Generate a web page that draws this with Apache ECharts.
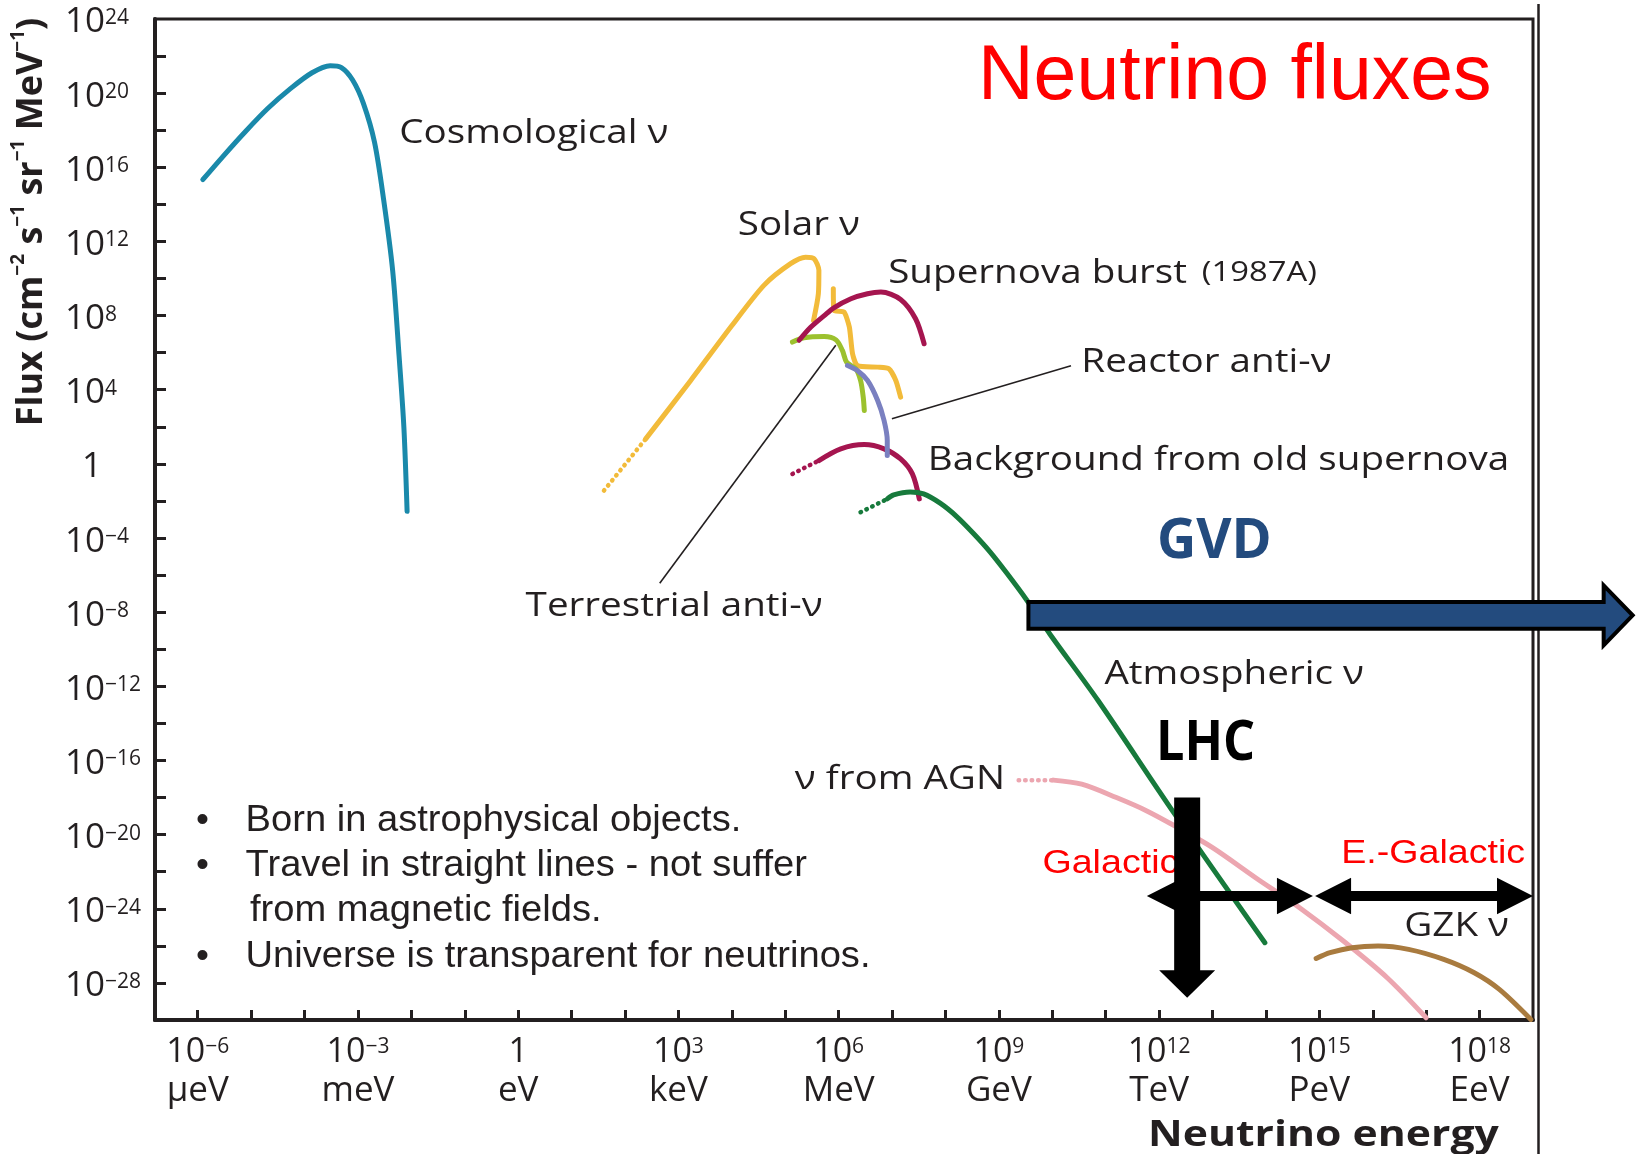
<!DOCTYPE html>
<html>
<head>
<meta charset="utf-8">
<title>Neutrino fluxes</title>
<script src="https://cdn.jsdelivr.net/npm/echarts@6.0.0/dist/echarts.min.js"></script>
<style>
  html, body { margin: 0; padding: 0; background: #ffffff; }
  #chart { width: 1637px; height: 1154px; }
</style>
</head>
<body>
<div id="chart"></div>
<script>
// Axes are in decades: x = log10(E / eV), y = log10(flux / (cm^-2 s^-1 sr^-1 MeV^-1))
const xTickValues = [-6, -5, -4, -3, -2, -1, 0, 1, 2, 3, 4, 5, 6, 7, 8, 9, 10, 11, 12, 13, 14, 15, 16, 17, 18];
const xLabelValues = [-6, -3, 0, 3, 6, 9, 12, 15, 18];
const xLabelUnits = ['µeV', 'meV', 'eV', 'keV', 'MeV', 'GeV', 'TeV', 'PeV', 'EeV'];
const yTickValues = [-28, -26, -24, -22, -20, -18, -16, -14, -12, -10, -8, -6, -4, -2, 0, 2, 4, 6, 8, 10, 12, 14, 16, 18, 20, 22];
const yLabelValues = [-28, -24, -20, -16, -12, -8, -4, 0, 4, 8, 12, 16, 20, 24];

// Flux curves, [log10 E, log10 flux]
const cosmological = [[-5.905, 15.33], [-5.53, 16.58], [-5.11, 17.92], [-4.69, 19.17], [-4.27, 20.23], [-3.86, 21.10], [-3.52, 21.48], [-3.31, 21.38], [-3.10, 20.71], [-2.90, 19.46], [-2.69, 17.35], [-2.52, 14.27], [-2.35, 10.42], [-2.23, 5.81], [-2.14, 1.96], [-2.08, -2.56]];
const solarDotted = [[1.606, -1.44], [2.387, 1.35]];
const solarMain = [[2.387, 1.35], [3.23, 4.50], [3.98, 7.38], [4.60, 9.63], [5.10, 10.80], [5.38, 11.15], [5.54, 11.07], [5.63, 10.44], [5.62, 9.18], [5.53, 7.74]];
const solarHigh = [[5.90, 9.45], [5.91, 8.28], [6.10, 8.19], [6.20, 7.38], [6.26, 5.94], [6.35, 5.31], [6.73, 5.22], [6.94, 5.13], [7.07, 4.50], [7.16, 3.60]];
const supernovaBurst = [[5.26, 6.67], [5.48, 7.38], [5.73, 8.00], [5.91, 8.42], [6.23, 8.91], [6.54, 9.18], [6.79, 9.27], [7.16, 8.87], [7.44, 7.83], [7.60, 6.48]];
const terrestrial = [[5.135, 6.57], [5.35, 6.80], [5.73, 6.87], [5.95, 6.69], [6.07, 6.12], [6.15, 5.48], [6.32, 5.13], [6.41, 4.50], [6.46, 3.60], [6.48, 2.88]];
const reactor = [[6.165, 5.31], [6.35, 5.04], [6.54, 4.50], [6.73, 3.42], [6.85, 2.34], [6.91, 1.26], [6.91, 0.45]];
const oldSupernovaDotted = [[5.135, -0.54], [5.63, 0.18]];
const oldSupernova = [[5.63, 0.18], [6.04, 0.81], [6.48, 1.04], [6.85, 0.81], [7.16, 0.27], [7.38, -0.54], [7.51, -1.89]];
const atmosphericDotted = [[6.41, -2.61], [6.91, -1.89]];
const atmospheric = [[6.91, -1.89], [7.03, -1.67], [7.34, -1.51], [7.59, -1.62], [7.90, -2.12], [8.21, -2.84], [8.52, -3.74], [8.83, -4.73], [9.15, -5.90], [9.52, -7.34], [9.96, -9.20], [10.86, -12.78], [12.27, -18.80], [13.98, -25.83]];
const agnDotted = [[9.37, -17.06], [10.02, -17.06]];
const agn = [[10.02, -17.06], [10.55, -17.28], [11.20, -18.00], [11.77, -18.72], [12.35, -19.62], [13.00, -20.70], [13.82, -22.35], [14.63, -23.94], [15.45, -25.74], [16.27, -27.72], [17.00, -29.88]];
const gzk = [[14.94, -26.68], [15.20, -26.37], [15.61, -26.10], [16.10, -26.01], [16.67, -26.19], [17.33, -26.73], [17.90, -27.45], [18.37, -28.35], [18.96, -29.97]];

// Curve names and where they sit, [log10 E, log10 flux] of the text's left middle
const curveLabels = [
  ['Cosmological ν', -2.228, 17.80],
  ['Solar ν', 4.11, 12.84],
  ['Supernova burst', 6.927, 10.27],
  ['Reactor anti-ν', 10.544, 5.45],
  ['Background from old supernova', 7.669, 0.155],
  ['Terrestrial anti-ν', 0.139, -7.68],
  ['Atmospheric ν', 10.975, -11.35],
  ['ν from AGN', 5.178, -17.05],
  ['GZK ν', 16.59, -24.97]
];
const supernovaYear = ['(1987A)', 12.80, 10.27];
const leaderLines = [
  [[6.997, 2.43], [10.35, 5.29]],
  [[5.946, 6.40], [2.65, -6.44]]
];

// Energy reach of the experiments and source classes
const gvdReach = [9.553, 20.866, -8.17];
const lhcReach = [12.525, -18.0, -28.8];
const galacticRange = [11.77, 14.88, -23.31];
const extragalacticRange = [14.92, 19.0, -23.31];
const rangeTexts = [['Galactic', 9.815, -21.58], ['E.-Galactic', 15.408, -21.06]];
const gvdText = ['GVD', 11.958, -4.23];
const lhcText = ['LHC', 11.94, -15.10];

const bullets = [
  'Born in astrophysical objects.',
  'Travel in straight lines - not suffer',
  'from magnetic fields.',
  'Universe is transparent for neutrinos.'
];

const FONT = "'Open Sans', 'Noto Sans', sans-serif";
const ARIAL = "'Liberation Sans', Arial, sans-serif";
const INK = '#231f20';

function supText(n) {
  return String(n).replace('-', '−');
}

function curve(name, data, color, opts) {
  const o = opts || {};
  return {
    name: name,
    type: 'line',
    data: data,
    showSymbol: false,
    symbol: 'none',
    smooth: o.smooth === undefined ? 0.3 : o.smooth,
    z: o.z || 3,
    silent: true,
    lineStyle: o.dotted
      ? { color: color, width: 4.5, type: [0.5, 6], cap: 'round' }
      : { color: color, width: 5, cap: 'round', join: 'round' }
  };
}

const COLORS = {
  cosmo: '#1a89aa',
  solar: '#f2bb3a',
  sn: '#a5154f',
  terr: '#9cc12e',
  reactor: '#7a80c0',
  atmo: '#177a3c',
  agn: '#eca6b0',
  gzk: '#a97b3f'
};

const chart = echarts.init(document.getElementById('chart'), null, { renderer: 'canvas' });

const option = {
  animation: false,
  backgroundColor: '#ffffff',
  grid: {
    left: 155, right: 104, top: 19, bottom: 134,
    show: true, borderColor: INK, borderWidth: 3, backgroundColor: 'transparent'
  },
  xAxis: {
    type: 'value',
    min: -6.8,
    max: 19,
    splitLine: { show: false },
    axisLine: { show: true, onZero: false, lineStyle: { color: INK, width: 4 } },
    axisTick: {
      show: true, inside: true, length: 10, customValues: xTickValues,
      lineStyle: { color: INK, width: 3 }
    },
    axisLabel: {
      customValues: xLabelValues,
      margin: 17,
      showMinLabel: true,
      showMaxLabel: true,
      hideOverlap: false,
      formatter: function (v) {
        const n = Math.round(v);
        const unit = xLabelUnits[xLabelValues.indexOf(n)];
        const top = n === 0 ? '{b|1}' : '{b|10}{s|' + supText(n) + '}';
        return top + '\n{u|' + unit + '}';
      },
      rich: {
        b: { fontFamily: FONT, fontSize: 34, color: INK, lineHeight: 30 },
        s: { fontFamily: FONT, fontSize: 21, color: INK, lineHeight: 20, verticalAlign: 'top' },
        u: { fontFamily: FONT, fontSize: 35, color: INK, lineHeight: 49 }
      }
    }
  },
  yAxis: {
    type: 'value',
    min: -30,
    max: 24,
    splitLine: { show: false },
    axisLine: { show: true, onZero: false, lineStyle: { color: INK, width: 4 } },
    axisTick: {
      show: true, inside: true, length: 11, customValues: yTickValues,
      lineStyle: { color: INK, width: 3 }
    },
    axisLabel: {
      customValues: yLabelValues,
      align: 'left',
      margin: 90,
      padding: [7, 0, 0, 0],
      showMinLabel: true,
      showMaxLabel: true,
      hideOverlap: false,
      formatter: function (v) {
        const n = Math.round(v);
        if (n === 0) return '{one|1}';
        return '{b|10}{s|' + supText(n) + '}';
      },
      rich: {
        b: { fontFamily: FONT, fontSize: 35, color: INK, lineHeight: 30 },
        s: { fontFamily: FONT, fontSize: 21, color: INK, lineHeight: 20, verticalAlign: 'top' },
        one: { fontFamily: FONT, fontSize: 35, color: INK, lineHeight: 30, padding: [0, 0, 0, 17] }
      }
    }
  },
  series: [
    curve('Cosmological ν', cosmological, COLORS.cosmo),
    curve('Solar ν (low energy)', solarDotted, COLORS.solar, { dotted: true, smooth: false }),
    curve('Solar ν', solarMain, COLORS.solar, { smooth: 0.25 }),
    curve('Solar ν (high energy)', solarHigh, COLORS.solar, { smooth: 0.2 }),
    curve('Terrestrial anti-ν', terrestrial, COLORS.terr, { smooth: 0.3 }),
    curve('Supernova burst', supernovaBurst, COLORS.sn, { z: 4 }),
    curve('Reactor anti-ν', reactor, COLORS.reactor, { z: 4 }),
    curve('Old supernovae (low energy)', oldSupernovaDotted, COLORS.sn, { dotted: true, smooth: false }),
    curve('Background from old supernova', oldSupernova, COLORS.sn),
    curve('Atmospheric ν (low energy)', atmosphericDotted, COLORS.atmo, { dotted: true, smooth: false }),
    curve('AGN (low energy)', agnDotted, COLORS.agn, { dotted: true, smooth: false }),
    curve('ν from AGN', agn, COLORS.agn),
    curve('GZK ν', gzk, COLORS.gzk),
    curve('Atmospheric ν', atmospheric, COLORS.atmo, { z: 4, smooth: 0.3 })
  ]
};

chart.setOption(option);

function px(x, y) {
  return chart.convertToPixel({ gridIndex: 0 }, [x, y]);
}

function textEl(text, p, style, extra) {
  const el = Object.assign({
    type: 'text',
    x: p[0],
    y: p[1],
    z: 50,
    silent: true,
    style: Object.assign({
      text: text,
      fill: INK,
      fontFamily: FONT,
      fontSize: 33,
      align: 'left',
      textAlign: 'left',
      verticalAlign: 'middle',
      textVerticalAlign: 'middle'
    }, style)
  }, extra || {});
  return el;
}

function rightArrow(x0, x1, y, h, H, L) {
  return [[x0, y - h], [x1 - L, y - h], [x1 - L, y - H], [x1, y], [x1 - L, y + H], [x1 - L, y + h], [x0, y + h]];
}

function doubleArrow(x0, x1, y, h, H, L) {
  return [[x0, y], [x0 + L, y - H], [x0 + L, y - h], [x1 - L, y - h], [x1 - L, y - H], [x1, y],
          [x1 - L, y + H], [x1 - L, y + h], [x0 + L, y + h], [x0 + L, y + H]];
}

function downArrow(x, y0, y1, w, W, L) {
  return [[x - w, y0], [x + w, y0], [x + w, y1 - L], [x + W, y1 - L], [x, y1], [x - W, y1 - L], [x - w, y1 - L]];
}

const g = [];

// second frame line at the right
g.push({
  type: 'line', z: 10, silent: true,
  shape: { x1: 1538.5, y1: 4, x2: 1538.5, y2: 1154 },
  style: { stroke: INK, lineWidth: 2.5 }
});

// curve names
curveLabels.forEach(function (c) {
  g.push(textEl(c[0], px(c[1], c[2]), { fontSize: 33 }, { scaleX: 1.17 }));
});
g.push(textEl(supernovaYear[0], px(supernovaYear[1], supernovaYear[2]), { fontSize: 28 }, { scaleX: 1.17 }));

// leader lines
leaderLines.forEach(function (l) {
  const a = px(l[0][0], l[0][1]);
  const b = px(l[1][0], l[1][1]);
  g.push({
    type: 'line', z: 40, silent: true,
    shape: { x1: a[0], y1: a[1], x2: b[0], y2: b[1] },
    style: { stroke: INK, lineWidth: 1.6 }
  });
});

// heading
g.push(textEl('Neutrino fluxes', [978, 78], { fontFamily: ARIAL, fontSize: 77, fill: '#ff0000' }));

// axis titles
g.push({
  type: 'text', x: 32, y: 222, rotation: Math.PI / 2, z: 50, silent: true,
  style: {
    text: '{t|Flux (cm}{s|−2}{t| s}{s|−1}{t| sr}{s|−1}{t| MeV}{s|−1}{t|)}',
    align: 'center', textAlign: 'center', verticalAlign: 'middle', textVerticalAlign: 'middle',
    rich: {
      t: { fontFamily: FONT, fontWeight: 'bold', fontSize: 36, lineHeight: 46, fill: INK, color: INK },
      s: { fontFamily: FONT, fontWeight: 'bold', fontSize: 19, lineHeight: 19, verticalAlign: 'top', fill: INK, color: INK }
    }
  }
});
g.push(textEl('Neutrino energy', [1148, 1136], { fontWeight: 'bold', fontSize: 35 }, { scaleX: 1.22 }));

// notes
const bulletBaselines = [820.6, 866, 911.2, 956.8];
bullets.forEach(function (t, i) {
  const indent = i === 2 ? 250 : 245.6;
  g.push(textEl(t, [indent, bulletBaselines[i]], { fontFamily: ARIAL, fontSize: 37 }, { scaleX: 1.03 }));
  if (i !== 2) {
    g.push(textEl('•', [202.5, bulletBaselines[i]], { fontFamily: ARIAL, fontSize: 37, align: 'center', textAlign: 'center' }));
  }
});

// GVD reach
(function () {
  const a = px(gvdReach[0], gvdReach[2]);
  const b = px(gvdReach[1], gvdReach[2]);
  g.push({
    type: 'polygon', z: 60, silent: true,
    shape: { points: rightArrow(a[0], b[0], a[1], 13.3, 30, 29) },
    style: { fill: '#234b7e', stroke: '#000000', lineWidth: 4, lineJoin: 'miter' }
  });
  g.push(textEl(gvdText[0], px(gvdText[1], gvdText[2]), { fontWeight: 'bold', fontSize: 56, fill: '#234b7e' }, { scaleX: 0.97 }));
})();

// Galactic / extragalactic ranges
rangeTexts.forEach(function (r) {
  g.push(textEl(r[0], px(r[1], r[2]), { fontFamily: ARIAL, fontSize: 33, fill: '#ff0000' }, { scaleX: 1.14 }));
});
[galacticRange, extragalacticRange].forEach(function (r) {
  const a = px(r[0], r[2]);
  const b = px(r[1], r[2]);
  g.push({
    type: 'polygon', z: 60, silent: true,
    shape: { points: doubleArrow(a[0], b[0], a[1], 5, 18.3, 36) },
    style: { fill: '#000000' }
  });
});

// LHC reach
(function () {
  const a = px(lhcReach[0], lhcReach[1]);
  const b = px(lhcReach[0], lhcReach[2]);
  g.push({
    type: 'polygon', z: 62, silent: true,
    shape: { points: downArrow(a[0], a[1], b[1], 13, 28, 27.4) },
    style: { fill: '#000000' }
  });
  g.push(textEl(lhcText[0], px(lhcText[1], lhcText[2]), { fontWeight: 'bold', fontSize: 56, fill: '#000000' }, { scaleX: 0.9 }));
})();

chart.setOption({ graphic: g });
</script>
</body>
</html>
